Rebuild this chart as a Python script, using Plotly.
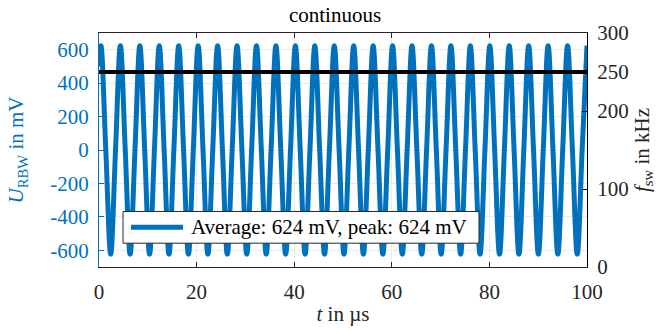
import plotly.graph_objects as go

# ---- data ----
amplitude_mv = 624            # legend: average / peak 624 mV
first_peak_us = 0.4           # first maximum of the waveform
period_us = 3.984             # spacing of the maxima (about 250 kHz)
n_cycles = 25
quarter_values = [624, 0, -624, 0]   # value at each quarter period
f_sw_khz = [250, 250]
f_sw_t = [0, 100]
start_value = 500             # value at t = 0

x_ticks = [0, 20, 40, 60, 80, 100]
u_ticks = [-600, -400, -200, 0, 200, 400, 600]
u_tick_labels = ["-600", "-400", "-200", "0", "200", "400", "600"]
f_ticks = [0, 100, 200, 250, 300]

legend_text = "Average: 624 mV, peak: 624 mV"

t_wave = [0.0] + [first_peak_us + k * period_us / 4 for k in range(4 * n_cycles + 1)]
u_wave = [start_value] + [quarter_values[k % 4] for k in range(4 * n_cycles + 1)]

blue = "#0072BD"
font_family = "Liberation Serif"
fs = 21

fig = go.Figure()
fig.add_trace(go.Scatter(
    x=t_wave, y=u_wave, mode="lines",
    line=dict(color=blue, width=5, shape="spline", smoothing=1.0),
    name=legend_text, showlegend=False,
))
fig.add_trace(go.Scatter(
    x=f_sw_t, y=f_sw_khz, mode="lines", yaxis="y2",
    line=dict(color="black", width=4), showlegend=False,
))

# legend box drawn manually (paper coordinates of the plot area)
fig.add_shape(type="rect", xref="paper", yref="paper",
              x0=0.0492, x1=0.7787, y0=0.1017, y1=0.2373,
              line=dict(color="#262626", width=1), fillcolor="white", layer="above")
fig.add_shape(type="line", xref="paper", yref="paper",
              x0=0.0656, x1=0.1721, y0=0.1695, y1=0.1695,
              line=dict(color=blue, width=5), layer="above")
fig.add_annotation(text=legend_text, xref="paper", yref="paper",
                   x=0.1844, y=0.1695, xanchor="left", yanchor="middle",
                   showarrow=False, font=dict(size=fs, color="black"))

fig.update_layout(
    width=670, height=334,
    margin=dict(l=99, r=83, t=33, b=65),
    paper_bgcolor="white", plot_bgcolor="white",
    font=dict(family=font_family, size=fs, color="#262626"),
    title=dict(text="continuous", x=0.5, xanchor="center", y=0.955, yanchor="middle",
               font=dict(size=fs, color="black")),
    showlegend=False,
    xaxis=dict(
        range=[0, 100], tickvals=x_ticks,
        ticks="inside", ticklen=5, tickcolor="#262626",
        showline=True, linecolor="#262626", linewidth=1, mirror="ticks",
        showgrid=True, gridcolor="#e6ecf2", gridwidth=1, zeroline=False,
        ticklabelstandoff=6,
        tickfont=dict(family=font_family, size=fs),
        title=dict(text="<i>t</i> in µs", standoff=3, font=dict(family=font_family, size=fs)),
    ),
    yaxis=dict(
        range=[-700, 700], tickvals=u_ticks, ticktext=u_tick_labels,
        ticks="inside", ticklen=5, tickcolor=blue,
        showline=True, linecolor=blue, linewidth=1,
        showgrid=True, gridcolor="#e6ecf2", gridwidth=1, zeroline=False,
        tickfont=dict(family=font_family, size=fs, color=blue), ticklabelstandoff=5,
        title=dict(text="<i>U</i><sub>RBW</sub> in mV", standoff=20,
                   font=dict(family=font_family, color=blue, size=fs)),
    ),
    yaxis2=dict(
        range=[0, 300], tickvals=f_ticks,
        overlaying="y", side="right",
        ticks="inside", ticklen=5, tickcolor="black",
        showline=True, linecolor="black", linewidth=1,
        showgrid=False, zeroline=False,
        tickfont=dict(family=font_family, size=fs, color="#262626"), ticklabelstandoff=5,
        title=dict(text="<i>f</i><sub>sw</sub> in kHz", standoff=6,
                   font=dict(family=font_family, size=fs, color="#262626")),
    ),
)

fig.write_html("out.html")
